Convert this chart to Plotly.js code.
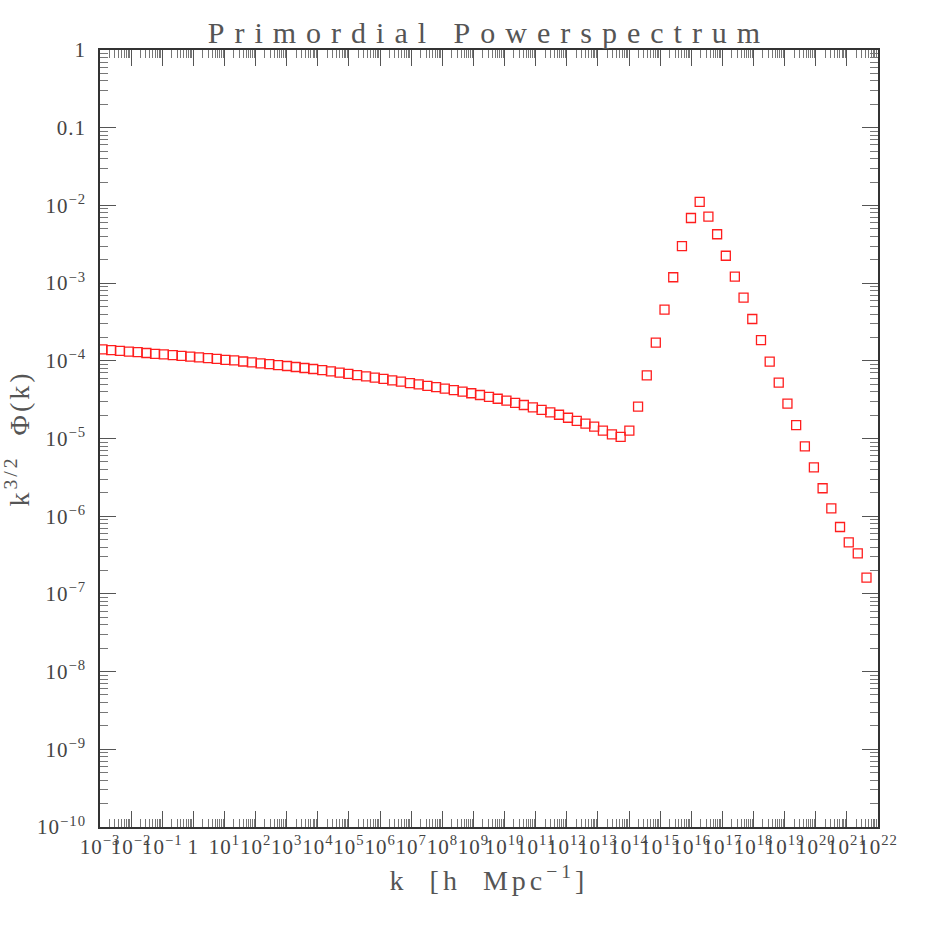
<!DOCTYPE html>
<html>
<head>
<meta charset="utf-8">
<script src="https://cdn.plot.ly/plotly-3.0.1.min.js"></script>
<style>
    html, body { margin: 0; padding: 0; background: #fff; }
    .gtitle { letter-spacing: 10px; }
    .xtitle { letter-spacing: 4px; }
    .ytitle { letter-spacing: 3px; }
    .xtick text, .ytick text { letter-spacing: 1px; }
</style>
</head>
<body>
<div id="powerspectrum"></div>
<script>
// k in h/Mpc, stored as log10(k)
const log_k = [
    -2.92, -2.64, -2.36, -2.07, -1.79, -1.51, -1.23, -0.95, -0.66, -0.38,
    -0.10, 0.18, 0.47, 0.75, 1.03, 1.31, 1.60, 1.88, 2.16, 2.44,
    2.72, 3.01, 3.29, 3.57, 3.85, 4.14, 4.42, 4.70, 4.98, 5.26,
    5.55, 5.83, 6.11, 6.39, 6.67, 6.96, 7.24, 7.52, 7.80, 8.08,
    8.37, 8.65, 8.93, 9.21, 9.50, 9.78, 10.06, 10.34, 10.62, 10.91,
    11.19, 11.47, 11.75, 12.04, 12.32, 12.60, 12.88, 13.16, 13.45, 13.73,
    14.01, 14.29, 14.57, 14.86, 15.14, 15.42, 15.70, 15.99, 16.27, 16.55,
    16.83, 17.11, 17.40, 17.68, 17.96, 18.24, 18.52, 18.81, 19.09, 19.37,
    19.65, 19.94, 20.22, 20.50, 20.78, 21.06, 21.35, 21.63
];

// k^(3/2) Phi(k)
const phi = [
    1.40e-4, 1.37e-4, 1.34e-4, 1.31e-4, 1.29e-4, 1.26e-4, 1.23e-4, 1.21e-4, 1.18e-4, 1.16e-4,
    1.13e-4, 1.11e-4, 1.08e-4, 1.06e-4, 1.03e-4, 1.01e-4, 9.79e-5, 9.54e-5, 9.29e-5, 9.04e-5,
    8.80e-5, 8.57e-5, 8.32e-5, 8.08e-5, 7.84e-5, 7.57e-5, 7.30e-5, 7.05e-5, 6.80e-5, 6.56e-5,
    6.32e-5, 6.08e-5, 5.85e-5, 5.61e-5, 5.38e-5, 5.16e-5, 4.97e-5, 4.77e-5, 4.57e-5, 4.39e-5,
    4.20e-5, 4.00e-5, 3.82e-5, 3.63e-5, 3.44e-5, 3.25e-5, 3.07e-5, 2.88e-5, 2.70e-5, 2.51e-5,
    2.33e-5, 2.17e-5, 2.02e-5, 1.85e-5, 1.69e-5, 1.55e-5, 1.42e-5, 1.26e-5, 1.13e-5, 1.05e-5,
    1.26e-5, 2.57e-5, 6.51e-5, 1.71e-4, 4.55e-4, 1.19e-3, 3.00e-3, 6.88e-3, 1.11e-2, 7.15e-3,
    4.25e-3, 2.25e-3, 1.21e-3, 6.49e-4, 3.45e-4, 1.84e-4, 9.74e-5, 5.23e-5, 2.81e-5, 1.49e-5,
    7.94e-6, 4.26e-6, 2.29e-6, 1.26e-6, 7.26e-7, 4.61e-7, 3.33e-7, 1.62e-7
];

// decade labels
const x_decades = [-3, -2, -1, 0, 1, 2, 3, 4, 5, 6, 7, 8, 9, 10, 11, 12,
                   13, 14, 15, 16, 17, 18, 19, 20, 21, 22];
const y_decades = [-10, -9, -8, -7, -6, -5, -4, -3, -2, -1, 0];

const power_label = d => '10<sup>' + (d < 0 ? '\u2212' + (-d) : d) + '</sup>';

const x_label = d => (d === 0) ? '1' : power_label(d);

const y_label = d => {
    if (d === 0) return '1';
    if (d === -1) return '0.1';
    return power_label(d);
};

// 2..9 inside every decade
const minor_vals = decades => {
    const vals = [];
    decades.slice(0, -1).forEach(d => {
        for (let m = 2; m <= 9; ++m)
            vals.push(m * Math.pow(10, d));
    });
    return vals;
};

const plot_powerspectrum = () => {

    const font = 'Liberation Serif, DejaVu Serif, serif';

    const trace = {
        x: log_k.map(e => Math.pow(10, e)),
        y: phi,
        type: 'scatter',
        mode: 'markers',
        marker: {
            symbol: 'square-open',
            size: 9,
            color: 'rgb(255, 30, 30)',
            line: { width: 1.3 }
        },
        hoverinfo: 'x+y'
    };

    const axis_common = {
        type: 'log',
        tickmode: 'array',
        ticks: 'inside',
        ticklen: 16,
        tickwidth: 1,
        tickcolor: '#555',
        showline: true,
        linecolor: '#333',
        linewidth: 1.5,
        mirror: 'ticks',
        showgrid: false,
        zeroline: false,
        tickfont: { family: font, size: 21, color: '#444' }
    };

    const layout = {
        width: 926,
        height: 926,
        margin: { l: 100, r: 48, t: 50, b: 99 },
        paper_bgcolor: '#fff',
        plot_bgcolor: '#fff',
        showlegend: false,
        title: {
            text: 'Primordial Powerspectrum',
            font: { family: font, size: 30, color: '#555' },
            xref: 'paper',
            x: 0.5,
            xanchor: 'center',
            yref: 'container',
            y: 0.965,
            yanchor: 'middle'
        },
        xaxis: {
            ...axis_common,
            range: [-3, 22],
            tickvals: x_decades.map(d => Math.pow(10, d)),
            ticktext: x_decades.map(x_label),
            tickangle: 0,
            minor: {
                tickmode: 'array',
                tickvals: minor_vals(x_decades),
                ticks: 'inside',
                ticklen: 8,
                tickcolor: '#777'
            },
            title: {
                text: 'k  [h  Mpc<sup>\u22121</sup>]',
                font: { family: font, size: 28, color: '#555' },
                standoff: 12
            }
        },
        yaxis: {
            ...axis_common,
            range: [-10, 0],
            tickvals: y_decades.map(d => Math.pow(10, d)),
            ticktext: y_decades.map(y_label),
            ticklabelstandoff: 8,
            minor: {
                tickmode: 'array',
                tickvals: minor_vals(y_decades),
                ticks: 'inside',
                ticklen: 8,
                tickcolor: '#777'
            },
            title: {
                text: 'k<sup>3/2</sup>  \u03a6(k)',
                font: { family: font, size: 28, color: '#555' },
                standoff: 0
            }
        }
    };

    Plotly.newPlot('powerspectrum', [trace], layout, { displayModeBar: false });
};

document.addEventListener("DOMContentLoaded", plot_powerspectrum);
</script>
</body>
</html>
